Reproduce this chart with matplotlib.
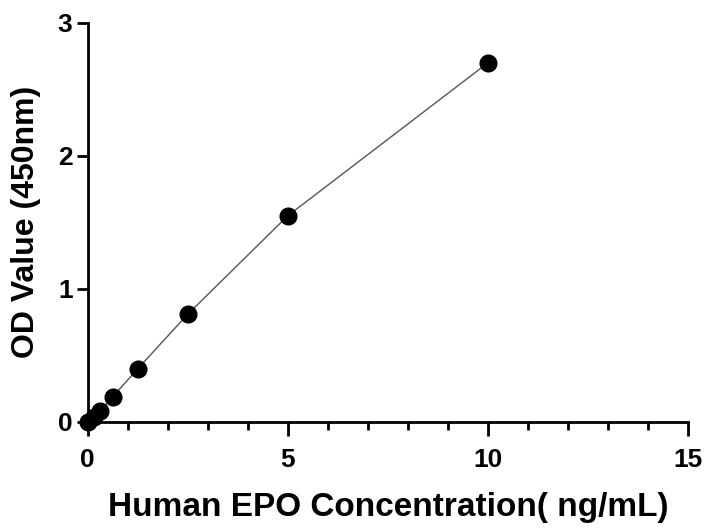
import matplotlib.pyplot as plt
from matplotlib.ticker import MultipleLocator

# Standard curve data
conc = [0, 0.156, 0.3125, 0.625, 1.25, 2.5, 5, 10]
od = [0.0, 0.04, 0.08, 0.19, 0.40, 0.81, 1.55, 2.70]

plt.rcParams['font.family'] = ['Liberation Sans', 'DejaVu Sans']

fig = plt.figure(figsize=(7.08, 5.30), dpi=100)
ax = fig.add_axes([0.124, 0.204, 0.848, 0.753])

ax.plot(conc, od, color='#555555', linewidth=1, zorder=2, clip_on=False)
ax.plot(conc, od, 'o', color='black', markersize=12, zorder=3, clip_on=False)

ax.set_xlim(0, 15)
ax.set_ylim(0, 3)
ax.xaxis.set_major_locator(MultipleLocator(5))
ax.xaxis.set_minor_locator(MultipleLocator(1))
ax.yaxis.set_major_locator(MultipleLocator(1))

for s in ['top', 'right']:
    ax.spines[s].set_visible(False)
for s in ['left', 'bottom']:
    ax.spines[s].set_linewidth(2)

ax.tick_params(axis='both', which='major', length=10, width=2, labelsize=19)
ax.tick_params(axis='x', which='major', pad=9)
ax.tick_params(axis='y', which='major', length=8, pad=3)
ax.tick_params(axis='x', which='minor', length=6, width=2)
for lab in ax.get_xticklabels() + ax.get_yticklabels():
    lab.set_fontweight('bold')

ax.set_xlabel('Human EPO Concentration( ng/mL)', fontsize=24, fontweight='bold', labelpad=14)
ax.set_ylabel('OD Value (450nm)', fontsize=23, fontweight='bold', labelpad=12)

fig.savefig('out.png', dpi=100)
